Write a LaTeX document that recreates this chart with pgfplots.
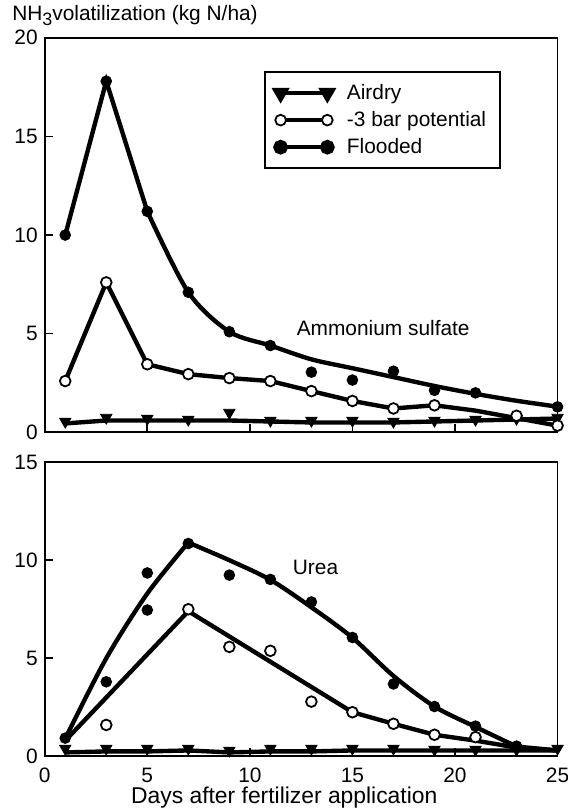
\documentclass[border=0pt]{standalone}
\usepackage{fontspec}
\setmainfont{Liberation Sans}
\usepackage{pgfplots}
\pgfplotsset{compat=1.18}

\pgfplotsset{
  panel/.style={
    scale only axis, width=258pt, xmin=0, xmax=25, ymin=0,
    xtick={0,5,...,25}, tick align=inside, xtick pos=left, ytick pos=left,
    major tick length=4pt, tick style={line width=0.8pt, black},
    axis line style={line width=0.9pt},
    tick label style={font=\fontsize{10.5}{12}\selectfont},
    /pgf/number format/assume math mode=true,
    clip=false,
  },
  fit/.style={black, line width=2.2pt, no marks, forget plot},
  dots/.style={only marks, mark=*, mark size=2.7pt, mark options={fill=black, draw=black}, forget plot},
  rings/.style={only marks, mark=*, mark size=2.7pt, mark options={fill=white, draw=black, line width=0.9pt}, forget plot},
  tris/.style={only marks, mark=triangle*, mark size=3.3pt, mark options={rotate=180, fill=black, draw=black}, forget plot},
}

\begin{document}
\begin{tikzpicture}
% ammonium sulfate
\begin{axis}[panel, height=198.5pt, ymax=20, ytick={0,5,...,20}, xticklabels={},
  legend style={at={(axis cs:10.7,18.3)}, anchor=north west, draw=black, line width=0.8pt,
    font=\fontsize{10.5}{12}\selectfont, cells={anchor=west}, row sep=0.5pt,
    inner xsep=5pt, inner ysep=4pt},
  legend image code/.code={\draw[#1] plot coordinates {(0pt,0pt) (23.5pt,0pt)};}]
\addlegendimage{black, line width=2pt, mark=triangle*, mark size=3.3pt, mark options={rotate=180, fill=black}}
\addlegendentry{\hspace*{5pt}Airdry}
\addlegendimage{black, line width=2pt, mark=*, mark size=2.7pt, mark options={fill=white, line width=0.9pt}}
\addlegendentry{\hspace*{5pt}-3 bar potential}
\addlegendimage{black, line width=2pt, mark=*, mark size=2.7pt, mark options={fill=black}}
\addlegendentry{\hspace*{5pt}Flooded}

\addplot[fit] coordinates {(1,0.45) (3,0.6) (5,0.6) (7,0.6) (9,0.6) (11,0.55) (13,0.5) (15,0.5) (17,0.5) (19,0.55) (21,0.6) (23,0.65) (25,0.7)};
\addplot[fit] coordinates {(1,2.6) (3,7.6) (5,3.45) (7,2.95) (9,2.75) (11,2.6) (13,2.09) (15,1.59) (17,1.21) (19,1.37) (21,1.1) (23,0.72) (25,0.34)};
\addplot[fit] coordinates {(1,10.0) (3,17.8) (5,11.2)};
\addplot[fit, smooth] coordinates {(5,11.2) (7,7.1) (9,5.1) (11,4.4) (13,3.7) (15,3.25) (17,2.8) (19,2.35) (21,1.95) (23,1.6) (25,1.3)};

\addplot[tris] coordinates {(1,0.55) (3,0.75) (5,0.7) (7,0.65) (9,1.0) (11,0.6) (13,0.6) (15,0.6) (17,0.55) (19,0.6) (21,0.65) (23,0.7) (25,0.75)};
\addplot[rings] coordinates {(1,2.6) (3,7.6) (5,3.45) (7,2.95) (9,2.75) (11,2.6) (13,2.09) (15,1.59) (17,1.21) (19,1.37) (23,0.84) (25,0.34)};
\addplot[dots] coordinates {(1,10.0) (3,17.8) (5,11.2) (7,7.1) (9,5.1) (11,4.4) (13,3.05) (15,2.65) (17,3.1) (19,2.13) (21,2.0) (25,1.29)};

\node[font=\fontsize{10.5}{12}\selectfont] at (axis cs:16.5,5.28) {Ammonium sulfate};
\node[anchor=base west, inner sep=0pt, font=\fontsize{10.5}{12}\selectfont] at ([xshift=-16.5pt, yshift=8.5pt]rel axis cs:0,1) {NH\raisebox{-0.4ex}{\fontsize{9}{10}\selectfont 3}volatilization (kg N/ha)};
\end{axis}

% urea
\begin{axis}[panel, at={(0,-163pt)}, height=148pt, ymax=15, ytick={0,5,...,15},
  xticklabel style={yshift=-2.5pt},
  xlabel={Days after fertilizer application},
  xlabel style={font=\fontsize{11.5}{13}\selectfont, at={(rel axis cs:0.5,0)}, anchor=center, xshift=-8.5pt, yshift=-21pt}]
\addplot[fit] coordinates {(1,0.2) (3,0.25) (5,0.25) (7,0.3) (9,0.2) (11,0.25) (13,0.25) (15,0.3) (17,0.3) (19,0.3) (21,0.3) (23,0.3) (25,0.3)};
\addplot[fit] coordinates {(1,0.8) (7,7.4) (15,2.25) (17,1.66) (19,1.1) (21,0.8) (23,0.45) (25,0.3)};
\addplot[fit, smooth] coordinates {(1,0.9) (3,5.0) (5,8.3) (7,10.9)};
\addplot[fit, smooth] coordinates {(7,10.9) (9,10.0) (11,9.0) (13,7.6) (15,6.05) (17,4.1) (19,2.54) (21,1.5) (23,0.5)};
\addplot[fit] coordinates {(23,0.5) (25,0.3)};

\addplot[tris] coordinates {(1,0.4) (3,0.4) (5,0.4) (7,0.4) (9,0.3) (11,0.4) (13,0.4) (15,0.4) (17,0.4) (19,0.35) (21,0.35) (23,0.35) (25,0.4)};
\addplot[rings] coordinates {(3,1.6) (7,7.5) (9,5.58) (11,5.38) (13,2.79) (15,2.25) (17,1.66) (19,1.1) (21,0.98)};
\addplot[dots] coordinates {(1,0.93) (3,3.8) (5,9.35) (5,7.46) (7,10.85) (9,9.24) (11,9.02) (13,7.87) (15,6.06) (17,3.69) (19,2.54) (21,1.54) (23,0.52)};

\node[font=\fontsize{10.5}{12}\selectfont] at (axis cs:13.2,9.65) {Urea};
\end{axis}
\pgfresetboundingbox
\path (-22.5pt,-190pt) rectangle (263pt,217.5pt);
\end{tikzpicture}
\end{document}
